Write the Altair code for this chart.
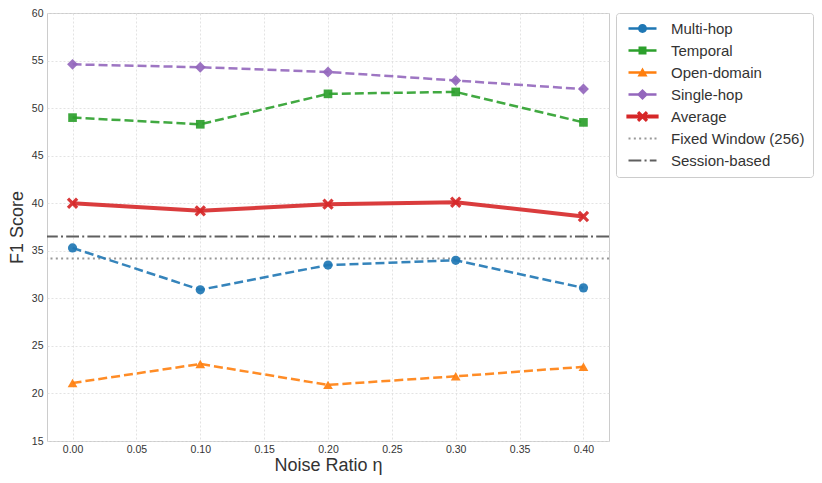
import altair as alt
import pandas as pd

# ---- data ----
noise = [0.0, 0.1, 0.2, 0.3, 0.4]
multi_hop = [35.3, 30.9, 33.5, 34.0, 31.1]
temporal = [49.0, 48.3, 51.5, 51.7, 48.5]
open_domain = [21.1, 23.1, 20.9, 21.8, 22.8]
single_hop = [54.6, 54.3, 53.8, 52.9, 52.0]
average = [40.0, 39.2, 39.9, 40.1, 38.6]
fixed_window = [34.2]
session_based = [36.5]

series_names = ["Multi-hop", "Temporal", "Open-domain", "Single-hop", "Average"]
series_values = [multi_hop, temporal, open_domain, single_hop, average]
series_colors = ["#1f77b4", "#2ca02c", "#ff7f0e", "#9467bd", "#d62728"]
ref_names = ["Fixed Window (256)", "Session-based"]
ref_colors = ["#999999", "#5f5f5f"]

FONT = "Liberation Sans"

# X marker path
X_PATH = ("M-1,-0.6L-0.6,-1L0,-0.4L0.6,-1L1,-0.6L0.4,0L1,0.6L0.6,1L0,0.4"
          "L-0.6,1L-1,0.6L-0.4,0Z")
shapes = ["circle", "square", "triangle-up", "diamond", X_PATH]
sizes = [85, 75, 95, 120, 130]
dashes = [[9, 4], [9, 4], [9, 4], [9, 4], None]
widths = [2.5, 2.5, 2.5, 2.5, 4]

xs = alt.X("eta:Q", scale=alt.Scale(domain=[-0.02, 0.42], nice=False),
           axis=alt.Axis(values=[0, 0.05, 0.1, 0.15, 0.2, 0.25, 0.3, 0.35, 0.4],
                         format=".2f", title="Noise Ratio η",
                         labelPadding=3, titlePadding=2))
ys = alt.Y("f1:Q", scale=alt.Scale(domain=[15, 60], nice=False, zero=False),
           axis=alt.Axis(values=list(range(15, 61, 5)), title="F1 Score",
                         labelPadding=4, titlePadding=5))

layers = []

# reference horizontal lines
ref_df = pd.DataFrame({"name": ref_names, "f1": [fixed_window[0], session_based[0]]})
layers.append(
    alt.Chart(ref_df[ref_df.name == ref_names[0]]).mark_rule(
        color=ref_colors[0], strokeWidth=2, strokeDash=[2, 3.3]
    ).encode(y=ys)
)
layers.append(
    alt.Chart(ref_df[ref_df.name == ref_names[1]]).mark_rule(
        color=ref_colors[1], strokeWidth=2, strokeDash=[12.8, 3.2, 2, 3.2]
    ).encode(y=ys)
)

for name, vals, col, shp, sz, dsh, w in zip(series_names, series_values, series_colors,
                                             shapes, sizes, dashes, widths):
    df = pd.DataFrame({"eta": noise, "f1": vals, "series": name})
    kw = dict(color=col, strokeWidth=w, opacity=0.9)
    if dsh:
        kw["strokeDash"] = dsh
    line = alt.Chart(df).mark_line(**kw).encode(x=xs, y=ys)
    pts = alt.Chart(df).mark_point(filled=True, shape=shp, size=sz, color=col,
                                   opacity=0.92).encode(x=xs, y=ys)
    layers += [line, pts]

# ---- legend (symbols = line + marker paths) ----
def rect(x0, x1, h):
    return f"M{x0},-{h}H{x1}V{h}H{x0}Z"

def circle(r):
    return f"M-{r},0A{r},{r} 0 1,1 {r},0A{r},{r} 0 1,1 -{r},0Z"

def square(s):
    return f"M-{s},-{s}H{s}V{s}H-{s}Z"

def tri(t):
    return f"M0,-{t}L{t},{round(t*0.8,3)}L-{t},{round(t*0.8,3)}Z"

def diamond(d):
    return f"M0,-{d}L{d},0L0,{d}L-{d},0Z"

def xmark(k):
    pts = [(-1, -0.6), (-0.6, -1), (0, -0.4), (0.6, -1), (1, -0.6), (0.4, 0), (1, 0.6),
           (0.6, 1), (0, 0.4), (-0.6, 1), (-1, 0.6), (-0.4, 0)]
    return "M" + "L".join(f"{round(a*k,3)},{round(b*k,3)}" for a, b in pts) + "Z"

legend_paths = [
    rect(-2, 2, 0.18) + circle(0.64),
    rect(-2, 2, 0.18) + square(0.57),
    rect(-2, 2, 0.18) + tri(0.72),
    rect(-2, 2, 0.18) + diamond(0.8),
    rect(-2.3, 2.3, 0.29) + xmark(0.8),
    "".join(rect(a, round(a + 0.29, 2), 0.14) for a in [-2, -1.24, -0.48, 0.28, 1.04, 1.71]),
    rect(-2, -0.17, 0.14) + rect(0.29, 0.58, 0.14) + rect(1.04, 2, 0.14),
]
legend_names = series_names + ref_names
legend_df = pd.DataFrame({"label": legend_names})
legend_layer = alt.Chart(legend_df).mark_point(filled=True, opacity=0).encode(
    color=alt.Color("label:N", scale=alt.Scale(domain=legend_names,
                                                range=series_colors + ref_colors),
                    legend=alt.Legend(title=None)),
    shape=alt.Shape("label:N", scale=alt.Scale(domain=legend_names, range=legend_paths),
                    legend=alt.Legend(title=None)),
)
layers.append(legend_layer)

chart = alt.layer(*layers).properties(
    width=806, height=467,
    autosize=alt.AutoSizeParams(type="fit", contains="padding"),
    padding={"left": 0, "top": 0, "right": 0, "bottom": 0},
).configure_view(
    stroke="#cccccc", strokeWidth=1
).configure_axis(
    labelFont=FONT, labelFontSize=10.5, labelColor="#333333",
    titleFont=FONT, titleFontSize=18, titleColor="#333333", titleFontWeight="normal",
    grid=True, gridColor="#dcdcdc", gridDash=[2, 2], gridWidth=0.8,
    ticks=False, domain=False,
).configure_legend(
    orient="right", offset=7, padding=8,
    strokeColor="#cccccc", cornerRadius=3, fillColor="white",
    labelFont=FONT, labelFontSize=15, labelColor="#333333",
    symbolSize=196, symbolOffset=11, labelOffset=21, rowPadding=6,
    symbolOpacity=1, symbolStrokeWidth=0,
)

chart.save("out.html", embed_options={"renderer": "svg", "actions": False})
